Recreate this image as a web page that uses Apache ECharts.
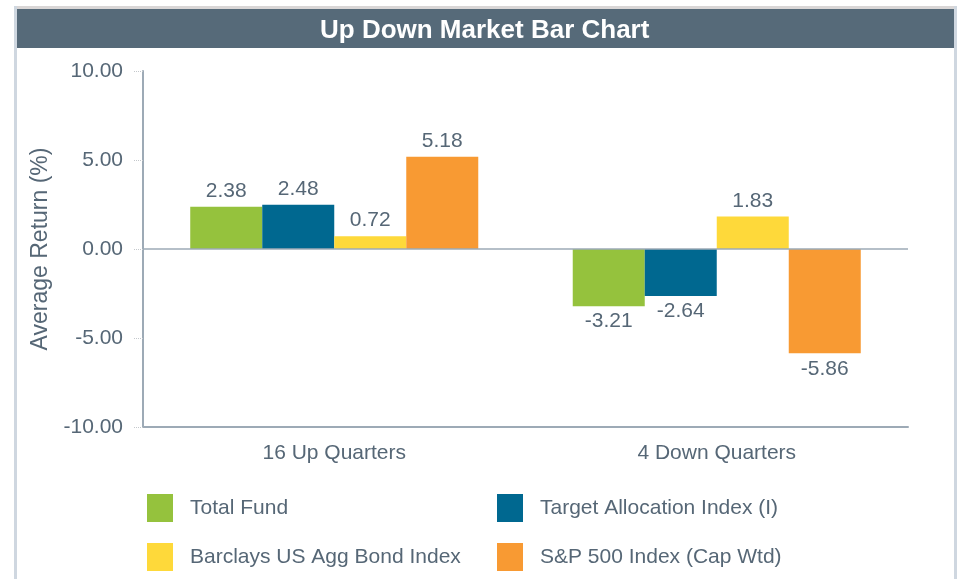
<!DOCTYPE html>
<html>
<head>
<meta charset="utf-8">
<script src="https://cdn.jsdelivr.net/npm/echarts@6/dist/echarts.min.js"></script>
<style>
  html, body { margin: 0; padding: 0; background: #fff; }
  #chart { width: 963px; height: 579px; }
</style>
</head>
<body>
<div id="chart"></div>
<script>
const categories = ['16 Up Quarters', '4 Down Quarters'];
const seriesNames = ['Total Fund', 'Target Allocation Index (I)', 'Barclays US Agg Bond Index', 'S&P 500 Index (Cap Wtd)'];
const totalFund = [2.38, -3.21];
const targetAlloc = [2.48, -2.64];
const barclays = [0.72, 1.83];
const sp500 = [5.18, -5.86];
const colors = ['#95c23d', '#006890', '#fed93a', '#f89a33'];

const textColor = '#566776';
const axisColor = '#9daab6';
const font = 'Liberation Sans, Arial, sans-serif';

function toItems(values) {
  return values.map(function (v) {
    return { value: v, label: { position: v < 0 ? 'bottom' : 'top' } };
  });
}

function makeSeries(name, values, idx) {
  const s = {
    name: name,
    type: 'bar',
    barGap: '0%',
    barCategoryGap: '24.7%',
    itemStyle: { color: colors[idx] },
    label: {
      show: true,
      distance: 5,
      fontSize: 21,
      fontFamily: font,
      color: textColor,
      formatter: function (p) { return p.value.toFixed(2); }
    },
    data: toItems(values)
  };
  if (idx === 0) {
    s.markLine = {
      silent: true,
      symbol: 'none',
      label: { show: false },
      lineStyle: { color: axisColor, type: 'solid', width: 1.5 },
      data: [{ yAxis: 0 }]
    };
  }
  return s;
}

const chart = echarts.init(document.getElementById('chart'));
const option = {
  animation: false,
  color: colors,
  title: {
    text: 'Up Down Market Bar Chart',
    left: 315,
    top: 13,
    textStyle: { color: '#ffffff', fontSize: 26, fontWeight: 'bold', fontFamily: font }
  },
  graphic: [
    { type: 'rect', z: -1, shape: { x: 14, y: 6, width: 943, height: 3 }, style: { fill: '#d9d6d6' } },
    { type: 'rect', z: -1, shape: { x: 14, y: 6, width: 3, height: 573 }, style: { fill: '#cfd7e0' } },
    { type: 'rect', z: -1, shape: { x: 954, y: 6, width: 3, height: 573 }, style: { fill: '#cfd7e0' } },
    { type: 'rect', z: -1, shape: { x: 17, y: 9, width: 937, height: 39 }, style: { fill: '#566a79' } }
  ],
  legend: [
    {
      orient: 'vertical',
      left: 142,
      top: 489,
      itemWidth: 26,
      itemHeight: 28,
      itemGap: 21,
      icon: 'rect',
      data: [seriesNames[0], seriesNames[2]],
      textStyle: { color: textColor, fontSize: 21, fontFamily: font, padding: [0, 0, 0, 12] }
    },
    {
      orient: 'vertical',
      left: 492,
      top: 489,
      itemWidth: 26,
      itemHeight: 28,
      itemGap: 21,
      icon: 'rect',
      data: [seriesNames[1], seriesNames[3]],
      textStyle: { color: textColor, fontSize: 21, fontFamily: font, padding: [0, 0, 0, 12] }
    }
  ],
  grid: { left: 143, right: 55, top: 71, bottom: 152 },
  xAxis: {
    type: 'category',
    data: categories,
    axisLine: { onZero: false, lineStyle: { color: axisColor, width: 2 } },
    axisTick: { alignWithLabel: true, length: 9, lineStyle: { color: '#c4c8cc', type: 'dotted' } },
    axisLabel: { color: textColor, fontSize: 21, fontFamily: font, margin: 16 },
    splitLine: { show: false }
  },
  yAxis: {
    type: 'value',
    min: -10,
    max: 10,
    interval: 5,
    name: 'Average Return (%)',
    nameLocation: 'middle',
    nameGap: 87,
    nameTextStyle: { color: textColor, fontSize: 23, fontFamily: font },
    axisLine: { show: true, lineStyle: { color: axisColor, width: 2 } },
    axisTick: { show: true, length: 9, lineStyle: { color: '#c4c8cc', type: 'dotted' } },
    axisLabel: {
      color: textColor,
      fontSize: 21,
      fontFamily: font,
      margin: 20,
      formatter: function (v) { return v.toFixed(2); }
    },
    splitLine: { show: false }
  },
  series: [
    makeSeries(seriesNames[0], totalFund, 0),
    makeSeries(seriesNames[1], targetAlloc, 1),
    makeSeries(seriesNames[2], barclays, 2),
    makeSeries(seriesNames[3], sp500, 3)
  ]
};
chart.setOption(option);
</script>
</body>
</html>
